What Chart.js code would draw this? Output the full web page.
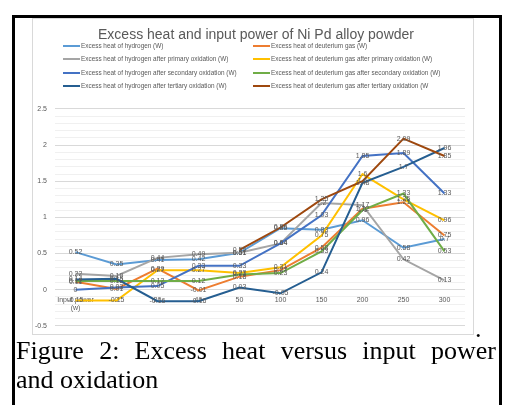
<!DOCTYPE html>
<html>
<head>
<meta charset="utf-8">
<script src="https://cdn.jsdelivr.net/npm/chart.js@4.4.1/dist/chart.umd.min.js"></script>
<style>
  html, body { margin: 0; padding: 0; background: #fff; }
  body { width: 511px; height: 405px; position: relative; overflow: hidden; }
  #frame { position: absolute; left: 12px; top: 15px; width: 484px; height: 400px; border: 3px solid #000; border-bottom: none; }
  #box { position: absolute; left: 32px; top: 18px; width: 442px; height: 317px; border: 1px solid #d9d9d9; box-sizing: border-box; background: #fff; overflow: visible; }
  #box canvas { display: block; }
  #dot { position: absolute; left: 475px; top: 314px; font: 26px "Liberation Serif"; line-height: 29px; }
  .cap { position: absolute; left: 16px; width: 480px; font: 26px "Liberation Serif"; line-height: 29px; color: #000; white-space: nowrap; }
  #cap1 { top: 336px; text-align: justify; text-align-last: justify; white-space: normal; }
  #cap2 { top: 365px; }
</style>
</head>
<body>
<div id="frame"></div>
<div id="box"><canvas id="chart" width="446" height="319"></canvas></div>
<span id="dot">.</span>
<div class="cap" id="cap1">Figure 2: Excess heat versus input power</div>
<div class="cap" id="cap2">and oxidation</div>
<script>
// input power categories (first one is the header row Excel picked up)
var categories = [['Input power', '(w)'], '0', '20', '40', '50', '100', '150', '200', '250', '300'];

var h_plain     = [0.52, 0.35, 0.41, 0.42, 0.51, 0.85, 0.83, 0.96, 0.58, 0.7];
var d_plain     = [0.11, 0.01, 0.29, -0.01, 0.18, 0.27, 0.58, 1.12, 1.21, 0.75];
var h_primary   = [0.22, 0.19, 0.44, 0.49, 0.51, 0.64, 1.2, 1.17, 0.42, 0.13];
var d_primary   = [-0.15, -0.15, 0.27, 0.27, 0.23, 0.31, 0.75, 1.6, 1.25, 0.96];
var h_secondary = [0, 0.03, 0.05, 0.33, 0.33, 0.64, 1.03, 1.85, 1.89, 1.33];
var d_secondary = [0.12, 0.12, 0.12, 0.12, 0.21, 0.23, 0.53, 1.1, 1.33, 0.53];
var h_tertiary  = [0.14, 0.15, -0.16, -0.16, 0.03, -0.05, 0.24, 1.48, 1.7, 1.96];
var d_tertiary  = [null, null, null, null, 0.55, 0.86, 1.25, 1.5, 2.09, 1.85];

var seriesNames = [
  'Excess heat of hydrogen (W)',
  'Excess heat of deuterium gas (W)',
  'Excess heat of hydrogen after primary oxidation (W)',
  'Excess heat of deuterium gas after primary oxidation (W)',
  'Excess heat of hydrogen after secondary oxidation (W)',
  'Excess heat of deuterium gas after secondary oxidation (W)',
  'Excess heat of hydrogen after tertiary oxidation (W)',
  'Excess heat of deuterium gas after tertiary oxidation (W'
];
var seriesData = [h_plain, d_plain, h_primary, d_primary, h_secondary, d_secondary, h_tertiary, d_tertiary];
var colors = ['#5b9bd5', '#ed7d31', '#a5a5a5', '#ffc000', '#4472c4', '#70ad47', '#255e91', '#9e480e'];

var yTicks = { min: -0.5, max: 2.5, minor: 0.1 };

Chart.defaults.font.family = '"Liberation Sans", Arial, sans-serif';
Chart.defaults.color = '#595959';

// excel style legend: two fixed columns
var twoColLegend = {
  id: 'twoColLegend',
  afterDraw: function(chart, args, opts) {
    var ctx = chart.ctx;
    ctx.save();
    ctx.font = '6.4px "Liberation Sans"';
    ctx.textBaseline = 'middle';
    ctx.textAlign = 'left';
    ctx.fillStyle = '#595959';
    chart.data.datasets.forEach(function(ds, i) {
      var x = opts.colX[i % 2], y = opts.rowY[Math.floor(i / 2)];
      ctx.strokeStyle = ds.borderColor;
      ctx.lineWidth = 2;
      ctx.beginPath();
      ctx.moveTo(x, y);
      ctx.lineTo(x + 17, y);
      ctx.stroke();
      ctx.fillText(ds.label, x + 18, y);
    });
    ctx.restore();
  }
};

// value label centred on every point
var valueLabels = {
  id: 'valueLabels',
  afterDatasetsDraw: function(chart) {
    var ctx = chart.ctx;
    ctx.save();
    ctx.font = '7px "Liberation Sans"';
    ctx.fillStyle = '#595959';
    ctx.textAlign = 'center';
    ctx.textBaseline = 'middle';
    chart.data.datasets.forEach(function(ds, i) {
      var meta = chart.getDatasetMeta(i);
      meta.data.forEach(function(pt, j) {
        var v = ds.data[j];
        if (v === null) return;
        ctx.fillText(String(v), pt.x, pt.y);
      });
    });
    ctx.restore();
  }
};

function isMajor(v) {
  return Math.abs(v * 2 - Math.round(v * 2)) < 1e-6;
}

var datasets = seriesData.map(function(d, i) {
  return {
    label: seriesNames[i],
    data: d,
    borderColor: colors[i],
    backgroundColor: colors[i],
    borderWidth: 2,
    pointRadius: 0,
    tension: 0,
    order: seriesData.length - i
  };
});

new Chart(document.getElementById('chart'), {
  type: 'line',
  data: { labels: categories, datasets: datasets },
  plugins: [twoColLegend, valueLabels],
  options: {
    responsive: false,
    animation: false,
    layout: { padding: 0 },
    plugins: {
      legend: { display: false },
      tooltip: { enabled: false },
      title: {
        display: true,
        text: 'Excess heat and input power of Ni Pd alloy powder',
        color: '#595959',
        font: { size: 14, weight: 'normal' },
        padding: { top: 7.6, bottom: 65.6 }
      },
      twoColLegend: { colX: [30, 220], rowY: [27, 40, 54, 67] }
    },
    scales: {
      x: {
        position: { y: 0 },
        offset: true,
        grid: { display: false, drawTicks: false },
        border: { display: false },
        ticks: { font: { size: 7 }, color: '#595959', padding: 6, maxRotation: 0, autoSkip: false }
      },
      y: {
        min: yTicks.min,
        max: yTicks.max,
        afterFit: function(scale) { scale.width = 22; },
        grid: {
          drawTicks: false,
          color: function(c) { return isMajor(c.tick.value) ? '#d9d9d9' : '#f0f0f0'; }
        },
        border: { display: false },
        ticks: {
          stepSize: yTicks.minor,
          autoSkip: false,
          padding: 8,
          font: { size: 7 },
          color: '#595959',
          callback: function(v) { return isMajor(v) ? String(Math.round(v * 10) / 10) : ''; }
        }
      },
      // empty right margin so the plot ends where Excel's does
      pad: {
        type: 'linear',
        position: 'right',
        afterFit: function(scale) { scale.width = 14; },
        grid: { display: false, drawTicks: false },
        border: { display: false },
        ticks: { display: false }
      }
    }
  }
});
</script>
</body>
</html>
